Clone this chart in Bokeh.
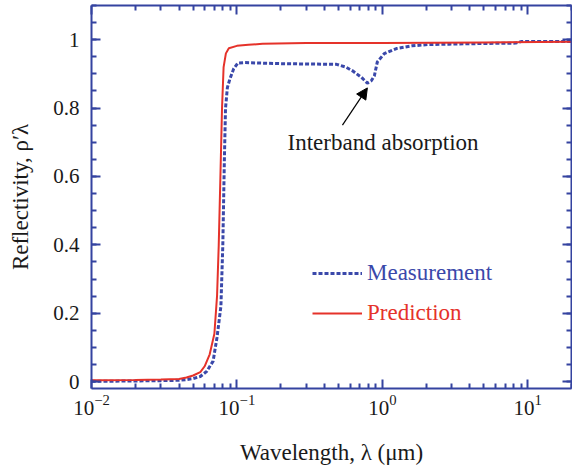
from bokeh.embed import file_html
from bokeh.models import (Arrow, CustomJSTickFormatter, FixedTicker, Label, Legend, LegendItem,
                          LinearAxis, LogAxis, LogTickFormatter, NormalHead, Range1d,
                          SingleIntervalTicker)
from bokeh.plotting import figure
from bokeh.resources import INLINE

# Predicted normal reflectivity vs. wavelength (um)
wl_pred = [0.01, 0.02, 0.03, 0.04, 0.045, 0.05, 0.056, 0.06, 0.065, 0.07, 0.073,
           0.075, 0.077, 0.079, 0.081, 0.084, 0.088, 0.1, 0.12, 0.15, 0.3, 1.0, 5.0, 20.0]
refl_pred = [0.004, 0.005, 0.006, 0.008, 0.012, 0.018, 0.028, 0.045, 0.08, 0.14, 0.25,
             0.40, 0.60, 0.80, 0.92, 0.96, 0.975, 0.982, 0.985, 0.988, 0.99, 0.99, 0.992, 0.994]

# Measured reflectivity (dip from interband absorption near 0.8 um)
wl_meas = [0.01, 0.02, 0.03, 0.04, 0.045, 0.05, 0.056, 0.062, 0.0686, 0.073, 0.0776,
           0.080, 0.082, 0.0835, 0.086, 0.0895, 0.095, 0.1016, 0.1135, 0.2, 0.3, 0.484,
           0.56, 0.624, 0.718, 0.789, 0.84, 0.881, 0.924, 1.03, 1.25, 1.6, 2.1, 2.88,
           5.0, 8.28, 9.1, 20.0]
refl_meas = [0.001, 0.002, 0.003, 0.004, 0.006, 0.009, 0.015, 0.03, 0.06, 0.13, 0.22,
             0.40, 0.65, 0.80, 0.86, 0.885, 0.915, 0.932, 0.933, 0.93, 0.929, 0.928,
             0.92, 0.909, 0.89, 0.873, 0.88, 0.894, 0.935, 0.959, 0.974, 0.982, 0.986, 0.987,
             0.989, 0.99, 0.995, 0.995]

x_major = [0.01, 0.1, 1.0, 10.0]
x_minor = [m * d for d in [0.01, 0.1, 1.0, 10.0] for m in range(2, 10)]

AXIS = "#3443a0"
BLUE = "#3a48aa"
RED = "#e5322a"
TEXT = "#1a1a1a"
SERIF = "Liberation Serif"

p = figure(width=572, height=468, x_axis_type="log",
           x_range=Range1d(0.01, 20), y_range=Range1d(-0.02, 1.1),
           output_backend="svg", toolbar_location=None,
           min_border_left=91, min_border_right=1, min_border_top=5, min_border_bottom=80)
p.outline_line_color = None
p.grid.visible = False
p.background_fill_color = "white"
p.border_fill_color = "white"

bottom = p.below[0]
left = p.left[0]

xt = FixedTicker(ticks=x_major, minor_ticks=x_minor)
yt = SingleIntervalTicker(interval=0.2, num_minor_ticks=4)
bottom.ticker = xt
left.ticker = yt
bottom.formatter = LogTickFormatter()

# Mirror axes on top and right carry ticks only
blank = CustomJSTickFormatter(code="return ''")
top = LogAxis(ticker=xt, formatter=blank, major_label_standoff=0)
right = LinearAxis(ticker=yt, formatter=blank, major_label_standoff=0)
p.add_layout(top, "above")
p.add_layout(right, "right")

for ax in [bottom, left, top, right]:
    ax.axis_line_color = AXIS
    ax.axis_line_width = 2
    ax.major_tick_line_color = AXIS
    ax.major_tick_line_width = 2
    ax.minor_tick_line_color = AXIS
    ax.minor_tick_line_width = 2
    ax.major_tick_in = 9
    ax.major_tick_out = 0
    ax.minor_tick_in = 5
    ax.minor_tick_out = 0
    ax.major_label_text_font = SERIF
    ax.major_label_text_font_size = "21px"
    ax.major_label_text_color = TEXT

bottom.major_label_standoff = 6
left.major_label_standoff = 12

for ax, title, standoff in [(bottom, "Wavelength, λ (μm)", 22),
                            (left, "Reflectivity, ρ′λ", 17)]:
    ax.axis_label = title
    ax.axis_label_standoff = standoff
    ax.axis_label_text_font = SERIF
    ax.axis_label_text_font_size = "23px"
    ax.axis_label_text_font_style = "normal"
    ax.axis_label_text_color = TEXT

r_meas = p.line(wl_meas, refl_meas, line_color=BLUE, line_width=3, line_dash="4 2")
r_pred = p.line(wl_pred, refl_pred, line_color=RED, line_width=2)

# One legend per series so each label can carry its series colour
for rend, name, col, ypos in [(r_meas, "Measurement", BLUE, 102), (r_pred, "Prediction", RED, 62)]:
    leg = Legend(items=[LegendItem(label=name, renderers=[rend])], location=(221, ypos),
                 label_text_color=col, label_text_font=SERIF, label_text_font_size="23px",
                 glyph_width=50, glyph_height=20, label_standoff=5, padding=0, margin=0,
                 spacing=0, border_line_alpha=0, background_fill_alpha=0)
    p.add_layout(leg)

p.add_layout(Arrow(end=NormalHead(size=11, fill_color="black", line_color="black"),
                   x_start=0.532, y_start=0.75, x_end=0.789, y_end=0.859,
                   line_color="black", line_width=1.2))
p.add_layout(Label(x=0.223, y=0.70, text="Interband absorption", text_font=SERIF,
                   text_font_size="23px", text_color=TEXT, text_baseline="alphabetic"))

open("out.html", "w").write(file_html(p, INLINE))
